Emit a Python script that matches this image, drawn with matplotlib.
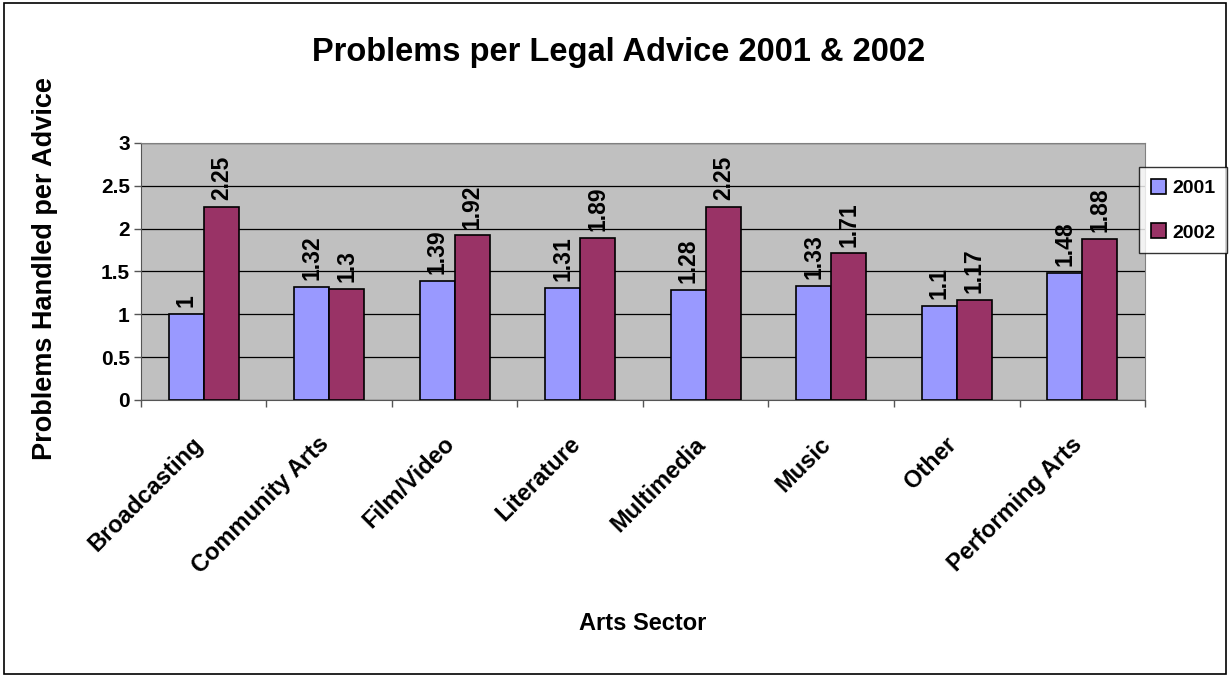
import numpy as np
import matplotlib.pyplot as plt
import matplotlib.transforms as mtransforms
from matplotlib.patches import Rectangle

# Data
sectors = ["Broadcasting", "Community Arts", "Film/Video", "Literature",
           "Multimedia", "Music", "Other", "Performing Arts"]
values_2001 = [1.0, 1.32, 1.39, 1.31, 1.28, 1.33, 1.1, 1.48]
values_2002 = [2.25, 1.3, 1.92, 1.89, 2.25, 1.71, 1.17, 1.88]
labels_2001 = ["1", "1.32", "1.39", "1.31", "1.28", "1.33", "1.1", "1.48"]
labels_2002 = ["2.25", "1.3", "1.92", "1.89", "2.25", "1.71", "1.17", "1.88"]

plt.rcParams['font.family'] = ['Liberation Sans', 'DejaVu Sans']
plt.rcParams['font.weight'] = 'bold'

fig = plt.figure(figsize=(12.3, 6.77), dpi=100)
ax = fig.add_axes([0.1146, 0.4092, 0.8163, 0.3796])
ax.set_facecolor('#C0C0C0')

x = np.arange(len(sectors))
w = 0.28
b1 = ax.bar(x - w / 2, values_2001, w, color='#9999FF', edgecolor='black',
            linewidth=1.2, label='2001', zorder=3)
b2 = ax.bar(x + w / 2, values_2002, w, color='#993366', edgecolor='black',
            linewidth=1.2, label='2002', zorder=3)

for bars, labs in ((b1, labels_2001), (b2, labels_2002)):
    for bar, lab in zip(bars, labs):
        ax.annotate(lab, (bar.get_x() + bar.get_width() / 2, bar.get_height()),
                    xytext=(0, 5), textcoords='offset points', rotation=90,
                    ha='center', va='bottom', fontsize=16.5, fontweight='bold')

ax.set_xlim(-0.5, len(sectors) - 0.5)
ax.set_ylim(0, 3)
ax.set_yticks(np.arange(0, 3.01, 0.5))
ax.set_yticklabels(["0", "0.5", "1", "1.5", "2", "2.5", "3"], fontsize=15,
                   fontweight='bold')
ax.yaxis.grid(True, color='black', linewidth=0.9, zorder=0)
ax.set_axisbelow(True)

# category labels centered, ticks at category boundaries
ax.set_xticks(x)
ax.set_xticklabels(sectors, rotation=45, ha='right', rotation_mode='anchor',
                   fontsize=17, fontweight='bold')
ax.tick_params(axis='x', length=0, pad=22)
shift = mtransforms.ScaledTranslation(-12 / 100, -2 / 100, fig.dpi_scale_trans)
for lbl in ax.get_xticklabels():
    lbl.set_transform(lbl.get_transform() + shift)
ax.set_xticks(np.arange(-0.5, len(sectors), 1), minor=True)
ax.tick_params(axis='x', which='minor', length=5, width=1, color='#555555')
ax.tick_params(axis='y', length=5, width=1, color='#555555', pad=3)

for s in ('top', 'right'):
    ax.spines[s].set_color('#808080')
for s in ('left', 'bottom'):
    ax.spines[s].set_color('#555555')

ax.set_xlabel('Arts Sector', fontsize=17, fontweight='bold')
ax.xaxis.set_label_coords(0.5, -0.825)
ax.set_ylabel('Problems Handled per Advice', fontsize=19.5, fontweight='bold')
ax.yaxis.set_label_coords(-0.083, 0.513)

fig.text(0.503, 0.923, 'Problems per Legal Advice 2001 & 2002', ha='center',
         va='center', fontsize=23.5, fontweight='bold')

leg = fig.legend(loc='upper left', bbox_to_anchor=(0.926, 0.753),
                 borderaxespad=0, fontsize=14, frameon=True, fancybox=False,
                 edgecolor='black', handlelength=0.8, handleheight=0.8,
                 handletextpad=0.3, labelspacing=1.35, borderpad=0.6)
leg.get_frame().set_linewidth(1)

# outer chart border
fig.patches.append(Rectangle((0.003, 0.004), 0.994, 0.992, transform=fig.transFigure,
                             fill=False, edgecolor='black', linewidth=1.2))

fig.savefig('out.png', dpi=100)
